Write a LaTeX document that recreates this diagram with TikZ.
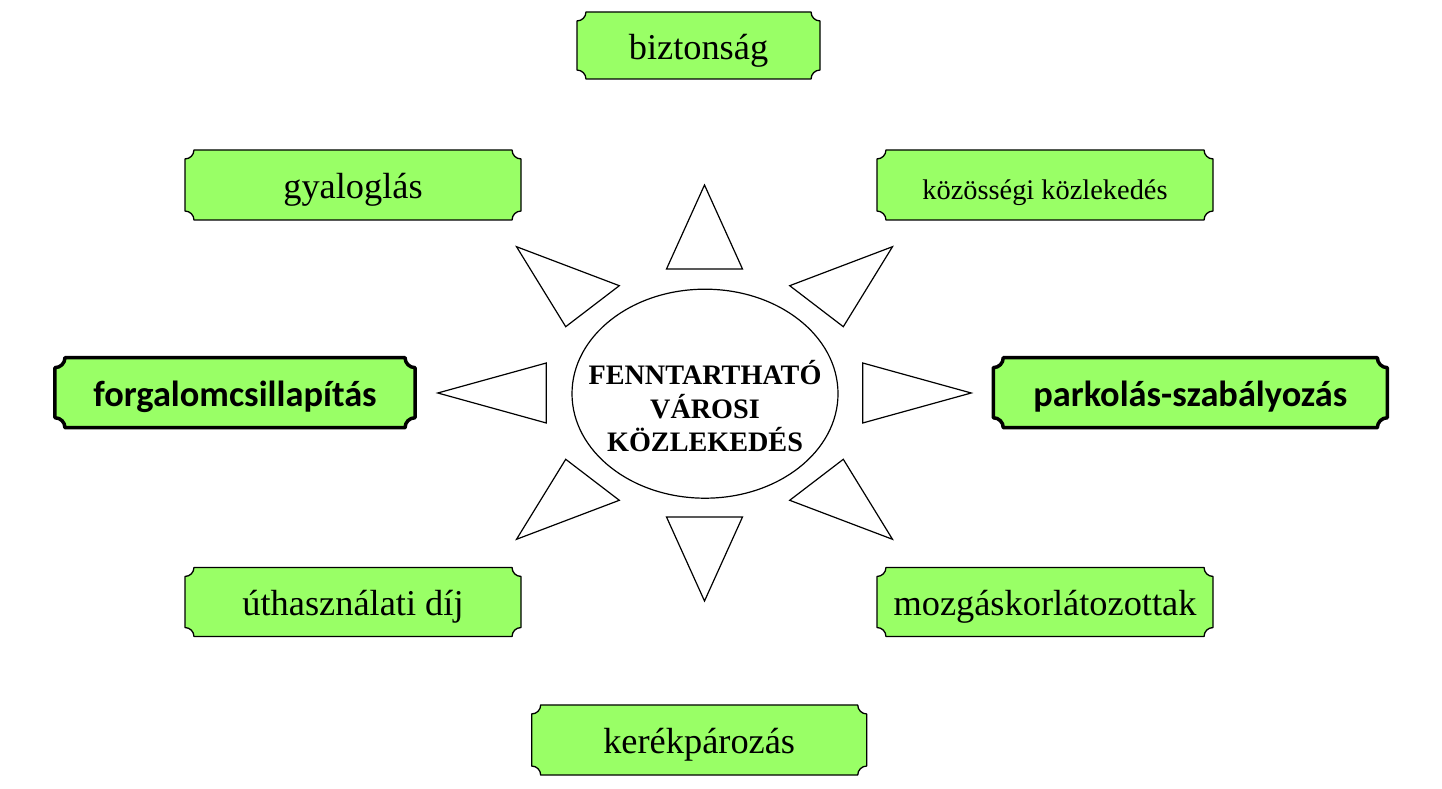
\documentclass[tikz,border=0pt]{standalone}
\usepackage{fontspec}
\setmainfont{Liberation Serif}
\newfontfamily\calfont{Carlito}
\usetikzlibrary{calc,shapes.geometric}
\definecolor{plqgreen}{RGB}{153,255,102}
\newcommand\plaqueof[3]{% #1 style, #2 node name, #3 corner radius (pt)
  \path[#1] let \p1=(#2.south west), \p2=(#2.north east) in
    (\x1,\y1+#3pt) -- (\x1,\y2-#3pt) arc[start angle=270,end angle=360,radius=#3pt]
    -- (\x2-#3pt,\y2) arc[start angle=180,end angle=270,radius=#3pt]
    -- (\x2,\y1+#3pt) arc[start angle=90,end angle=180,radius=#3pt]
    -- (\x1+#3pt,\y1) arc[start angle=0,end angle=90,radius=#3pt] -- cycle;}
\begin{document}
\begin{tikzpicture}[x=1bp,y=1bp,
  frame/.style={inner sep=0pt,outer sep=0pt},
  txt/.style={inner sep=0pt,outer sep=0pt,anchor=base,text=black,font=\fontsize{36.5}{40}\selectfont},
  smalltxt/.style={txt,font=\fontsize{28.5}{32}\selectfont},
  boldtxt/.style={txt,font=\calfont\bfseries\fontsize{36.5}{40}\selectfont},
  thinplaque/.style={draw=black,fill=plqgreen,line width=1.3bp,line join=round},
  thickplaque/.style={draw=black,fill=plqgreen,line width=3.5bp,line join=round},
  ray/.style={draw=black,fill=white,line width=1.2bp,line join=miter}]
\useasboundingbox (0,0) rectangle (1442,788);
\fill[white] (0,0) rectangle (1442,788);
% node frames
\node[frame,minimum width=243bp,minimum height=67bp] (bizt) at (698.5,742.5) {};
\node[frame,minimum width=336bp,minimum height=70bp] (gyal) at (353,603) {};
\node[frame,minimum width=336bp,minimum height=70bp] (kozos) at (1045,603) {};
\node[frame,minimum width=360bp,minimum height=70bp] (forg) at (235,395.3) {};
\node[frame,minimum width=394bp,minimum height=70bp] (park) at (1190.3,395.3) {};
\node[frame,minimum width=336bp,minimum height=69bp] (ut) at (353,186) {};
\node[frame,minimum width=336bp,minimum height=69bp] (mozg) at (1045,186) {};
\node[frame,minimum width=335bp,minimum height=70bp] (kerek) at (699.2,48) {};
\plaqueof{thinplaque}{bizt}{9}
\plaqueof{thinplaque}{gyal}{9}
\plaqueof{thinplaque}{kozos}{9}
\plaqueof{thickplaque}{forg}{10}
\plaqueof{thickplaque}{park}{10}
\plaqueof{thinplaque}{ut}{9}
\plaqueof{thinplaque}{mozg}{9}
\plaqueof{thinplaque}{kerek}{9}
% texts
\node[txt] at (bizt.center |- 0,728) {biztonság};
\node[txt] at (gyal.center |- 0,589.5) {gyaloglás};
\node[smalltxt] at (kozos.center |- 0,588) {közösségi közlekedés};
\node[boldtxt] at (forg.center |- 0,381.3) {forgalomcsillapítás};
\node[boldtxt] at (park.center |- 0,381.3) {parkolás-szabályozás};
\node[txt] at (ut.center |- 0,172.5) {úthasználati díj};
\node[txt] at (mozg.center |- 0,172.5) {mozgáskorlátozottak};
\node[txt] at (kerek.center |- 0,34.7) {kerékpározás};
% rays
\begin{scope}[shift={(704.5,395)}]
\path[ray] (0,208) -- (-38,124) -- (38,124) -- cycle;
\path[ray] (0,-208) -- (-38,-124) -- (38,-124) -- cycle;
\path[ray] (-266.7,0) -- (-158.2,30) -- (-158.2,-30) -- cycle;
\path[ray] (266.7,0) -- (158.2,30) -- (158.2,-30) -- cycle;
\path[ray] (-188,146.3) -- (-85.2,107.3) -- (-138.8,66.3) -- cycle;
\path[ray] (188,146.3) -- (85.2,107.3) -- (138.8,66.3) -- cycle;
\path[ray] (-188,-146.3) -- (-85.2,-107.3) -- (-138.8,-66.3) -- cycle;
\path[ray] (188,-146.3) -- (85.2,-107.3) -- (138.8,-66.3) -- cycle;
\end{scope}
% centre
\node[ellipse,draw=black,line width=1.2bp,fill=white,minimum width=266bp,minimum height=209bp,inner sep=0pt] (center) at (705,394.3) {};
\node[inner sep=0pt,anchor=base,align=center,font=\bfseries\fontsize{28.3}{33.7}\selectfont] (ctext) at (center.center |- 0,336.3)
  {FENNTARTHATÓ\\VÁROSI\\KÖZLEKEDÉS};
\end{tikzpicture}
\end{document}
